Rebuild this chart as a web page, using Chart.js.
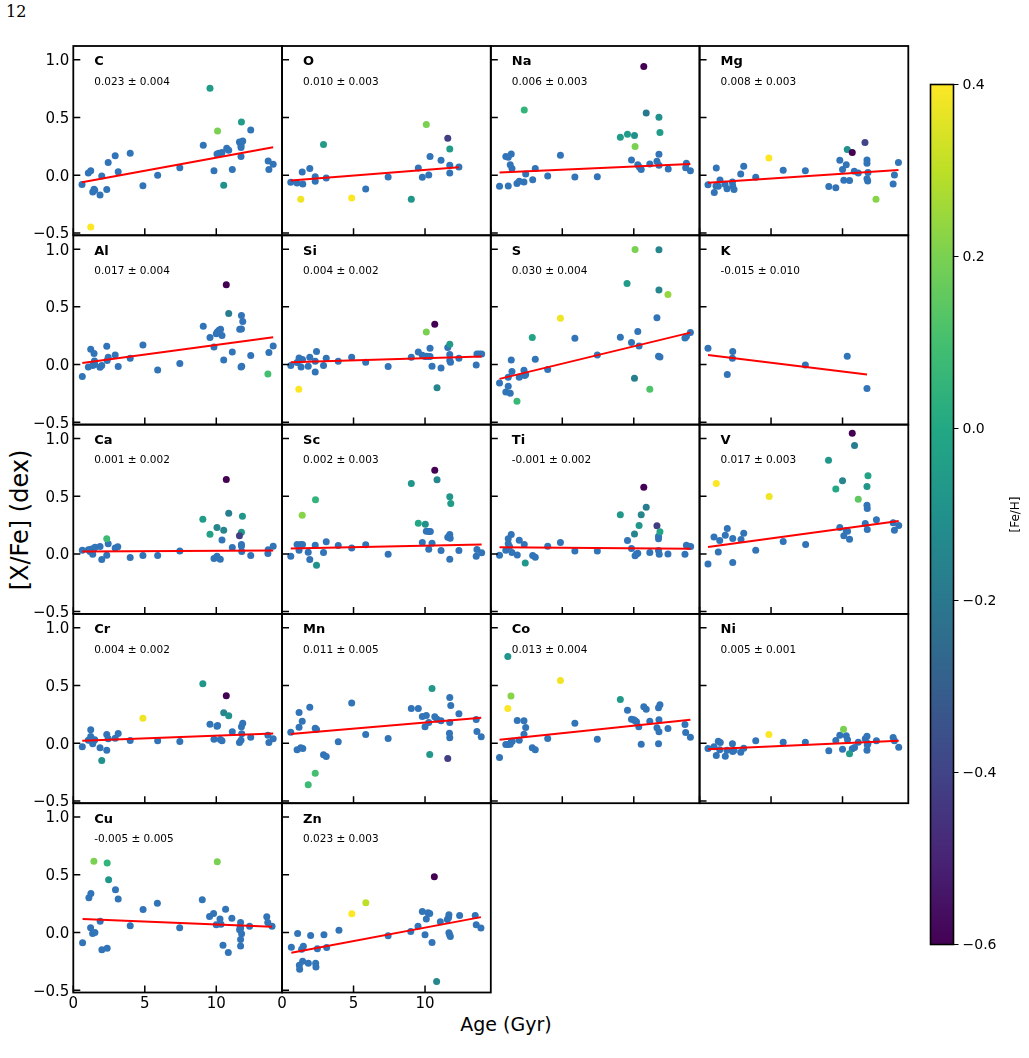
<!DOCTYPE html>
<html>
<head>
<meta charset="utf-8">
<script src="https://cdn.jsdelivr.net/npm/chart.js@4.4.1/dist/chart.umd.min.js"></script>
<style>
  html, body { margin:0; padding:0; background:#fff; }
  #fig { position:relative; width:1029px; height:1058px; overflow:hidden; background:#fff; font-family:"DejaVu Sans", sans-serif; }
  canvas { position:absolute; }
  .txt { position:absolute; white-space:nowrap; color:#000; }
</style>
</head>
<body>
<div id="fig">
  <div class="txt" style="left:6px; top:2px; font-family:'DejaVu Serif', serif; font-size:16px;">12</div>
  <div class="txt" id="ylab" style="left:20px; top:520px; font-size:24px; transform:translate(-50%,-50%) rotate(-90deg);">[X/Fe] (dex)</div>
  <div class="txt" style="left:506px; top:1024px; font-size:19px; transform:translate(-50%,-50%);">Age (Gyr)</div>
</div>
<script>
// ---------------- DATA ----------------
const ELEMENTS = ['C','O','Na','Mg','Al','Si','S','K','Ca','Sc','Ti','V','Cr','Mn','Co','Ni','Cu','Zn'];
const SLOPE_TEXT = ['0.023 ± 0.004','0.010 ± 0.003','0.006 ± 0.003','0.008 ± 0.003',
  '0.017 ± 0.004','0.004 ± 0.002','0.030 ± 0.004','-0.015 ± 0.010',
  '0.001 ± 0.002','0.002 ± 0.003','-0.001 ± 0.002','0.017 ± 0.003',
  '0.004 ± 0.002','0.011 ± 0.005','0.013 ± 0.004','0.005 ± 0.001',
  '-0.005 ± 0.005','0.023 ± 0.003'];
const FIT_INTERCEPT = [-0.075,-0.052,0.020,-0.070,0.004,0.018,-0.142,0.092,0.020,0.045,0.059,0.049,0.017,0.072,0.021,-0.055,0.119,-0.191];
const FIT_SLOPE = [0.0228,0.0099,0.0056,0.0083,0.0167,0.0037,0.0300,-0.0152,0.0007,0.0026,-0.0011,0.0170,0.0048,0.0106,0.0130,0.0054,-0.0050,0.0233];

const X_TICKS = [0,5,10];
const X_TICK_LABELS = ['0','5','10'];
const Y_TICKS = [-0.5,0,0.5,1.0];
const Y_TICK_LABELS = ['\u22120.5','0.0','0.5','1.0'];
const CBAR_TICKS = [0.4,0.2,0.0,-0.2,-0.4,-0.6];
const CBAR_TICK_LABELS = ['0.4','0.2','0.0','\u22120.2','\u22120.4','\u22120.6'];

// [age, [X/Fe]] for the main (blue) sample
const C_blue = [[0.61,-0.08],[1.05,0.02],[1.22,0.04],[1.36,-0.145],[1.45,-0.12],[1.5,-0.13],[1.87,-0.17],[1.99,-0.006],[2.34,-0.124],[2.44,0.11],[2.93,0.17],[3.14,0.03],[3.98,0.19],[4.87,-0.09],[5.9,0.0],[7.45,0.066],[9.09,0.26],[9.84,0.04],[10.05,0.185],[10.19,0.19],[10.4,0.197],[10.73,0.234],[10.87,0.217],[11.12,0.05],[11.62,0.289],[11.73,0.277],[11.73,0.257],[11.73,0.24],[11.85,0.298],[11.73,0.162],[12.41,0.393],[13.63,0.124],[13.68,0.049],[13.98,0.095]];
const O_blue = [[0.61,-0.061],[1.05,-0.066],[1.41,0.029],[1.45,-0.075],[1.94,0.058],[2.32,-0.012],[2.32,-0.052],[3.09,-0.023],[5.85,-0.118],[7.42,-0.014],[9.53,0.064],[9.81,-0.017],[10.26,0.003],[10.35,0.162],[11.12,0.13],[11.73,0.087],[11.73,0.02],[12.37,0.072]];
const Na_blue = [[0.61,-0.095],[1.22,-0.092],[1.05,0.162],[1.22,0.156],[1.43,0.185],[1.36,0.092],[1.48,0.058],[1.83,-0.072],[1.99,-0.052],[2.32,-0.058],[2.44,0.012],[2.93,-0.038],[3.11,0.058],[3.98,-0.006],[4.87,0.173],[5.88,-0.014],[7.45,-0.012],[9.84,0.133],[10.28,0.092],[10.4,0.069],[10.52,0.049],[11.12,0.098],[11.62,0.121],[11.76,0.182],[11.76,0.087],[12.41,0.055],[13.63,0.066],[13.68,0.104],[13.96,0.04]];
const Mg_blue = [[0.59,-0.081],[1.03,-0.15],[1.17,0.064],[1.15,-0.092],[1.31,-0.095],[1.43,-0.04],[1.78,-0.078],[1.92,-0.116],[2.3,-0.058],[2.32,-0.092],[2.41,-0.124],[2.88,0.012],[3.09,0.078],[3.93,-0.017],[5.85,0.043],[7.4,0.04],[9.04,-0.098],[9.53,-0.107],[9.81,0.13],[10.0,0.049],[10.09,-0.043],[10.26,0.092],[10.49,-0.046],[10.82,0.035],[11.1,0.02],[11.71,0.133],[11.71,0.104],[11.78,0.023],[11.71,-0.029],[11.76,-0.049],[13.54,-0.075],[13.63,0.003],[13.91,0.11]];
const Al_blue = [[0.63,-0.104],[1.05,-0.02],[1.22,0.133],[1.45,0.095],[1.36,-0.009],[1.48,0.032],[1.5,0.0],[1.87,-0.023],[1.99,-0.009],[2.34,0.159],[2.37,0.035],[2.44,0.064],[2.93,0.084],[3.14,-0.017],[3.98,0.055],[4.87,0.17],[5.9,-0.046],[7.45,0.009],[9.09,0.332],[9.56,0.234],[9.84,0.153],[10.0,0.266],[10.07,0.283],[10.19,0.298],[10.3,0.306],[10.4,0.251],[10.52,0.04],[11.12,0.11],[11.76,0.425],[11.85,0.373],[11.64,0.306],[11.76,0.309],[11.73,-0.02],[11.78,-0.014],[12.41,0.078],[13.68,0.104],[13.98,0.162]];
const Si_blue = [[0.61,-0.009],[1.05,0.017],[1.19,0.058],[1.31,0.04],[1.43,0.043],[1.33,-0.02],[1.83,-0.014],[1.94,0.064],[2.32,0.029],[2.32,-0.064],[2.41,0.113],[2.9,-0.009],[3.09,0.055],[3.93,0.029],[4.87,0.064],[5.85,0.02],[7.42,-0.017],[9.04,0.064],[9.53,0.11],[9.81,0.081],[10.0,0.069],[10.09,0.072],[10.23,0.069],[10.35,0.069],[10.35,0.142],[10.49,-0.014],[11.12,-0.029],[11.59,0.147],[11.73,0.087],[11.73,0.035],[11.78,0.02],[12.37,0.055],[13.58,-0.003],[13.63,0.092],[13.79,0.092],[13.96,0.092]];
const S_blue = [[0.61,-0.159],[1.05,-0.237],[1.22,-0.188],[1.22,-0.11],[1.36,-0.249],[1.43,0.04],[1.48,-0.061],[1.99,-0.11],[2.32,-0.049],[2.37,-0.095],[2.44,-0.087],[3.11,0.046],[3.98,-0.043],[5.88,0.228],[7.45,0.084],[9.06,0.237],[9.84,0.191],[10.28,0.286],[10.37,0.162],[11.62,0.405],[11.73,0.072],[11.83,0.066],[13.58,0.231],[13.68,0.243],[13.96,0.277]];
const K_blue = [[0.59,0.142],[1.94,-0.087],[2.32,0.113],[2.3,0.055],[7.4,-0.003],[10.33,0.072],[11.71,-0.208]];
const Ca_blue = [[0.63,0.032],[1.05,0.035],[1.22,0.04],[1.17,0.02],[1.36,-0.003],[1.43,0.049],[1.52,0.058],[1.87,0.064],[1.99,-0.049],[2.34,-0.012],[2.44,0.087],[2.93,0.052],[3.11,0.061],[3.98,-0.032],[4.87,-0.014],[5.9,-0.014],[7.45,0.026],[9.84,-0.04],[10.05,-0.02],[10.28,-0.046],[10.4,0.121],[11.12,0.055],[11.76,0.081],[11.76,0.069],[11.78,0.02],[12.41,-0.014],[13.63,0.035],[13.61,0.003],[13.98,0.066]];
const Sc_blue = [[0.61,-0.02],[1.05,0.081],[1.19,0.032],[1.31,0.081],[1.43,0.081],[1.83,0.014],[1.94,-0.049],[2.32,0.075],[2.9,0.012],[3.09,0.104],[3.93,0.072],[4.87,0.052],[5.85,0.078],[7.42,-0.003],[9.81,0.098],[10.09,0.197],[10.26,0.194],[10.37,0.194],[10.26,0.04],[10.49,0.092],[11.12,0.029],[11.59,0.145],[11.73,0.168],[11.76,0.136],[11.73,-0.046],[12.37,0.029],[13.58,-0.02],[13.63,0.038],[13.96,0.009]];
const Ti_blue = [[0.61,-0.012],[1.05,0.032],[1.22,0.13],[1.22,0.087],[1.31,0.064],[1.43,0.168],[1.48,0.012],[1.85,-0.009],[1.99,0.118],[2.34,0.081],[2.93,-0.014],[3.11,-0.029],[3.98,0.066],[4.87,0.098],[5.88,0.026],[7.45,0.026],[9.56,0.116],[9.84,0.046],[10.09,-0.017],[10.28,0.006],[10.19,0.0],[11.12,0.012],[11.73,0.153],[11.73,0.13],[11.73,0.029],[11.78,-0.003],[12.39,0.0],[13.58,-0.003],[13.68,0.075],[13.84,0.064],[13.98,0.064]];
const V_blue = [[0.59,-0.087],[1.01,0.147],[1.31,0.017],[1.41,0.116],[1.8,0.162],[1.94,0.22],[2.32,-0.075],[2.32,0.133],[2.9,0.124],[3.09,0.179],[3.93,0.032],[5.85,0.107],[7.42,0.081],[9.81,0.228],[10.09,0.156],[10.26,0.202],[10.35,0.197],[10.49,0.127],[11.59,0.263],[11.71,0.422],[11.73,0.393],[11.73,0.211],[12.37,0.295],[13.54,0.269],[13.63,0.205],[13.93,0.246]];
const Cr_blue = [[0.63,-0.032],[1.05,0.026],[1.22,0.058],[1.22,0.116],[1.31,0.012],[1.43,0.02],[1.5,0.029],[1.36,-0.006],[1.87,-0.04],[2.34,-0.061],[2.34,0.075],[2.44,0.038],[2.93,0.043],[3.14,0.084],[3.98,0.023],[5.9,0.02],[7.45,0.014],[9.56,0.165],[9.84,0.035],[10.05,0.147],[10.09,0.153],[10.28,0.032],[10.4,0.02],[11.12,0.098],[11.62,0.006],[11.73,0.026],[11.78,0.081],[11.76,0.142],[11.85,0.173],[12.41,0.052],[13.61,0.069],[13.68,0.006],[13.98,0.038]];
const Mn_blue = [[0.61,0.095],[1.05,-0.058],[1.31,-0.04],[1.45,-0.046],[1.19,0.139],[1.19,0.266],[1.41,0.191],[1.94,0.312],[2.32,0.13],[2.41,0.118],[2.9,-0.101],[3.09,-0.116],[3.93,0.012],[4.87,0.347],[5.85,0.075],[7.42,0.04],[9.04,0.301],[9.53,0.301],[9.81,0.231],[10.09,0.24],[10.0,0.142],[10.26,0.179],[10.68,0.228],[10.84,0.208],[11.12,0.194],[11.73,0.396],[11.8,0.327],[11.73,0.179],[11.71,0.087],[11.73,0.046],[12.37,0.254],[13.58,0.205],[13.63,0.101],[13.93,0.055]];
const Co_blue = [[0.61,-0.124],[1.05,-0.012],[1.22,-0.012],[1.36,-0.009],[1.43,0.012],[1.5,0.017],[1.85,0.197],[1.99,0.026],[2.32,0.194],[2.32,0.078],[2.44,0.136],[2.9,-0.04],[3.11,-0.058],[3.98,0.04],[5.88,0.173],[7.45,0.035],[9.56,0.286],[9.84,0.208],[10.0,0.202],[10.09,0.194],[10.19,0.185],[10.35,0.142],[10.52,-0.009],[10.7,0.315],[10.87,0.295],[11.12,0.191],[11.62,0.133],[11.76,0.098],[11.76,0.202],[11.73,0.306],[11.83,0.332],[11.73,-0.006],[12.39,0.127],[13.58,0.162],[13.63,0.092],[13.96,0.052]];
const Ni_blue = [[0.59,-0.046],[1.01,-0.032],[1.17,-0.107],[1.31,0.017],[1.45,0.006],[1.41,-0.058],[1.8,-0.113],[1.92,-0.061],[2.3,-0.006],[2.32,-0.072],[2.41,-0.061],[2.88,-0.078],[3.09,-0.043],[3.93,0.02],[5.85,0.009],[7.4,0.009],[9.04,-0.066],[9.53,0.023],[9.81,0.069],[10.0,-0.052],[10.26,0.064],[10.35,0.029],[10.68,-0.049],[10.84,-0.038],[11.1,0.009],[11.59,0.038],[11.71,0.061],[11.78,-0.003],[11.71,-0.061],[11.73,-0.015],[12.37,0.02],[13.54,0.049],[13.63,0.02],[13.93,-0.035]];
const Cu_blue = [[0.65,-0.09],[1.09,0.301],[1.23,0.338],[1.21,0.04],[1.35,-0.009],[1.51,0.0],[1.88,0.098],[2.0,-0.15],[2.37,-0.136],[2.95,0.37],[3.14,0.289],[3.98,0.058],[4.88,0.199],[5.88,0.254],[7.44,0.04],[9.02,0.283],[9.53,0.139],[9.81,0.165],[10.0,0.066],[10.26,0.116],[10.33,0.072],[10.47,-0.11],[10.65,0.202],[10.84,-0.173],[11.09,0.124],[11.7,0.087],[11.7,0.035],[11.77,-0.012],[11.7,-0.061],[11.7,-0.118],[11.67,0.049],[11.63,0.023],[12.33,0.055],[13.53,0.136],[13.6,0.087],[13.9,0.055]];
const Zn_blue = [[0.65,-0.127],[1.09,-0.009],[1.21,-0.283],[1.23,-0.318],[1.37,-0.145],[1.49,-0.119],[1.44,-0.249],[1.84,-0.266],[2.0,-0.026],[2.35,-0.266],[2.37,-0.298],[2.47,-0.142],[2.93,-0.02],[3.12,-0.13],[3.98,0.02],[7.42,-0.029],[9.0,0.009],[9.51,0.055],[9.81,0.182],[10.0,-0.02],[10.09,0.116],[10.21,0.171],[10.33,0.165],[10.49,-0.087],[11.07,0.092],[11.56,0.113],[11.65,0.13],[11.67,0.153],[11.67,-0.003],[11.72,-0.02],[11.77,-0.035],[12.42,0.147],[13.51,0.147],[13.58,0.066],[13.91,0.038]];

// [age, [X/Fe], [Fe/H]] for the points coloured by metallicity
const C_feh = [[9.56,0.754,-0.05],[10.09,0.384,0.2],[11.76,0.462,-0.05],[10.52,-0.087,-0.1],[1.22,-0.448,0.4]];
const O_feh = [[2.9,0.266,-0.05],[1.31,-0.208,0.38],[4.87,-0.197,0.4],[9.04,-0.208,-0.08],[10.09,0.439,0.2],[11.59,0.321,-0.42],[11.73,0.228,-0.05]];
const Na_feh = [[2.34,0.566,0.05],[9.06,0.329,-0.05],[9.56,0.355,-0.05],[10.05,0.344,-0.1],[10.09,0.249,0.2],[10.7,0.942,-0.6],[10.87,0.54,-0.2],[11.76,0.503,-0.1],[11.83,0.37,-0.05]];
const Mg_feh = [[4.85,0.15,0.4],[10.33,0.223,-0.1],[10.68,0.197,-0.6],[11.57,0.283,-0.4],[12.34,-0.208,0.22]];
const Al_feh = [[10.7,0.691,-0.6],[10.87,0.442,-0.18],[13.61,-0.081,0.1]];
const Si_feh = [[1.17,-0.214,0.4],[10.09,0.283,0.2],[10.68,0.35,-0.6],[11.73,0.176,-0.05],[10.84,-0.2,-0.15]];
const S_feh = [[1.83,-0.318,0.07],[2.9,0.234,-0.02],[4.87,0.402,0.38],[9.53,0.702,-0.05],[10.09,0.997,0.2],[10.05,-0.118,-0.17],[11.12,-0.214,0.12],[11.76,0.994,-0.15],[11.76,0.647,-0.15],[12.39,0.607,0.24]];
const K_feh = [];
const Ca_feh = [[2.34,0.13,0.08],[9.06,0.3,-0.05],[9.56,0.17,-0.03],[10.05,0.228,-0.15],[10.52,0.205,-0.15],[10.7,0.645,-0.6],[10.87,0.353,-0.18],[11.83,0.327,-0.08],[11.76,0.188,-0.07],[11.62,0.156,-0.42]];
const Sc_feh = [[1.41,0.335,0.22],[2.34,0.468,0.05],[2.41,-0.098,-0.1],[9.04,0.61,-0.08],[9.53,0.266,0.0],[10.02,0.257,-0.1],[10.68,0.725,-0.6],[10.84,0.642,-0.15],[11.73,0.494,-0.08],[11.8,0.436,-0.05]];
const Ti_feh = [[2.41,-0.078,-0.08],[9.06,0.338,-0.07],[10.05,0.173,-0.15],[10.37,0.246,-0.08],[10.52,0.338,-0.15],[10.7,0.578,-0.6],[10.87,0.405,-0.18],[11.62,0.243,-0.42],[11.83,0.191,-0.02]];
const V_feh = [[1.17,0.61,0.4],[4.87,0.497,0.38],[9.02,0.812,-0.08],[9.53,0.561,0.0],[10.0,0.633,-0.15],[10.68,1.046,-0.6],[10.84,0.939,-0.18],[11.1,0.474,0.15],[11.78,0.676,-0.02],[11.71,0.584,-0.08]];
const Cr_feh = [[1.99,-0.15,-0.1],[4.87,0.217,0.38],[9.06,0.514,-0.07],[10.52,0.263,-0.15],[10.7,0.41,-0.6],[10.87,0.237,-0.1]];
const Mn_feh = [[2.32,-0.26,0.1],[1.83,-0.361,0.08],[10.49,0.474,-0.07],[10.33,-0.098,-0.07],[11.59,-0.133,-0.42]];
const Co_feh = [[1.19,0.751,-0.08],[1.41,0.408,0.22],[1.19,0.3,0.4],[4.87,0.543,0.38],[9.06,0.379,-0.07]];
const Ni_feh = [[4.85,0.075,0.4],[10.07,0.121,0.2],[10.49,-0.092,-0.05]];
const Cu_feh = [[1.44,0.618,0.2],[2.37,0.601,0.05],[2.47,0.457,-0.08],[10.07,0.613,0.2]];
const Zn_feh = [[4.88,0.162,0.4],[5.86,0.257,0.3],[10.65,0.483,-0.6],[10.81,-0.425,-0.15]];

const BLUE_SETS = [C_blue,O_blue,Na_blue,Mg_blue,Al_blue,Si_blue,S_blue,K_blue,Ca_blue,Sc_blue,Ti_blue,V_blue,Cr_blue,Mn_blue,Co_blue,Ni_blue,Cu_blue,Zn_blue];
const FEH_SETS = [C_feh,O_feh,Na_feh,Mg_feh,Al_feh,Si_feh,S_feh,K_feh,Ca_feh,Sc_feh,Ti_feh,V_feh,Cr_feh,Mn_feh,Co_feh,Ni_feh,Cu_feh,Zn_feh];

// ---------------- STYLE / LAYOUT ----------------
const X_MIN = 0, X_MAX = 14.6, Y_MIN = -0.52, Y_MAX = 1.12;
const FEH_MIN = -0.6, FEH_MAX = 0.4;
const BLUE = '#3274b8';
const VIRIDIS = ['#440154','#482475','#414487','#355f8d','#2a788e','#21918c','#22a884','#44bf70','#7ad151','#bddf26','#fde725'];
function hex2rgb(h){return [parseInt(h.slice(1,3),16),parseInt(h.slice(3,5),16),parseInt(h.slice(5,7),16)];}
function viridis(v){
  let t=(v-FEH_MIN)/(FEH_MAX-FEH_MIN); t=Math.max(0,Math.min(1,t));
  const s=t*(VIRIDIS.length-1); const i=Math.min(VIRIDIS.length-2,Math.floor(s)); const f=s-i;
  const a=hex2rgb(VIRIDIS[i]), b=hex2rgb(VIRIDIS[i+1]);
  return 'rgb('+a.map((c,k)=>Math.round(c+(b[k]-c)*f)).join(',')+')';
}

const PANEL_L0 = 73.3, PANEL_W = 208.75, PANEL_T0 = 46, PANEL_H = 189.3, NCOL = 4, PAD = 46;
const fig = document.getElementById('fig');

const panelDecor = {
  id:'panelDecor',
  afterDatasetsDraw(chart, args, o){
    const ctx=chart.ctx, a=chart.chartArea, xs=chart.scales.x, ys=chart.scales.y;
    ctx.save();
    ctx.strokeStyle='#000'; ctx.lineWidth=1.5;
    ctx.beginPath();
    Y_TICKS.forEach(v=>{const p=ys.getPixelForValue(v); ctx.moveTo(a.left,p); ctx.lineTo(a.left+7,p);});
    X_TICKS.forEach(v=>{const p=xs.getPixelForValue(v); ctx.moveTo(p,a.bottom); ctx.lineTo(p,a.bottom-7);});
    ctx.stroke();
    ctx.lineWidth=1.8;
    ctx.strokeRect(a.left,a.top,a.right-a.left,a.bottom-a.top);
    ctx.fillStyle='#000';
    ctx.textAlign='left'; ctx.textBaseline='middle';
    ctx.font='bold 13px "DejaVu Sans"';
    ctx.fillText(o.name, a.left+21, a.top+16);
    ctx.font='10.5px "DejaVu Sans"';
    ctx.fillText(o.slope, a.left+21, a.top+36);
    ctx.font='15px "DejaVu Sans"';
    if(o.yLabels){
      ctx.textAlign='right';
      Y_TICKS.forEach((v,i)=>ctx.fillText(Y_TICK_LABELS[i], a.left-4, ys.getPixelForValue(v)+1.5));
    }
    if(o.xLabels){
      ctx.textAlign='center'; ctx.textBaseline='top';
      X_TICKS.forEach((v,i)=>ctx.fillText(X_TICK_LABELS[i], xs.getPixelForValue(v), a.bottom+4));
    }
    ctx.restore();
  }
};

function makeCanvas(L,T,W,H){
  const cl=Math.floor(L)-PAD, ct=Math.floor(T)-PAD;
  const cw=Math.ceil(L+W)+PAD-cl, ch=Math.ceil(T+H)+PAD-ct;
  const cv=document.createElement('canvas');
  cv.width=cw; cv.height=ch; cv.style.left=cl+'px'; cv.style.top=ct+'px';
  cv.style.width=cw+'px'; cv.style.height=ch+'px';
  fig.appendChild(cv);
  return {cv, pad:{left:L-cl, top:T-ct, right:cw-(L-cl)-W, bottom:ch-(T-ct)-H}};
}

ELEMENTS.forEach((el,i)=>{
  const col=i%NCOL, row=Math.floor(i/NCOL);
  const L=PANEL_L0+col*PANEL_W, T=PANEL_T0+row*PANEL_H;
  const {cv,pad}=makeCanvas(L,T,PANEL_W,PANEL_H);
  const blue=BLUE_SETS[i].map(p=>({x:p[0],y:p[1]}));
  const feh=FEH_SETS[i];
  const ages=BLUE_SETS[i].map(p=>p[0]);
  const x0=Math.min(...ages), x1=Math.max(...ages);
  const fit=[{x:x0,y:FIT_INTERCEPT[i]+FIT_SLOPE[i]*x0},{x:x1,y:FIT_INTERCEPT[i]+FIT_SLOPE[i]*x1}];
  new Chart(cv,{
    type:'scatter',
    data:{datasets:[
      {type:'line',data:fit,borderColor:'#ff0000',borderWidth:2,pointRadius:0,fill:false,order:0},
      {data:feh.map(p=>({x:p[0],y:p[1]})),pointBackgroundColor:feh.map(p=>viridis(p[2])),pointBorderWidth:0,pointRadius:3.5,order:1},
      {data:blue,pointBackgroundColor:BLUE,pointBorderWidth:0,pointRadius:3.5,order:2}
    ]},
    options:{
      responsive:false, animation:false, events:[],
      layout:{padding:pad},
      plugins:{legend:{display:false},tooltip:{enabled:false},
        panelDecor:{name:el,slope:SLOPE_TEXT[i],yLabels:col===0,xLabels:row===4}},
      scales:{x:{type:'linear',min:X_MIN,max:X_MAX,display:false},y:{type:'linear',min:Y_MIN,max:Y_MAX,display:false}}
    },
    plugins:[panelDecor]
  });
});

// ---------------- COLORBAR ----------------
const cbarDecor = {
  id:'cbarDecor',
  afterDatasetsDraw(chart){
    const ctx=chart.ctx, a=chart.chartArea, ys=chart.scales.y;
    ctx.save();
    const g=ctx.createLinearGradient(0,ys.getPixelForValue(FEH_MIN),0,ys.getPixelForValue(FEH_MAX));
    VIRIDIS.forEach((c,k)=>g.addColorStop(k/(VIRIDIS.length-1),c));
    ctx.fillStyle=g; ctx.fillRect(a.left,a.top,a.right-a.left,a.bottom-a.top);
    ctx.strokeStyle='#000'; ctx.lineWidth=1.6;
    ctx.strokeRect(a.left,a.top,a.right-a.left,a.bottom-a.top);
    ctx.lineWidth=1.2; ctx.beginPath();
    CBAR_TICKS.forEach(v=>{const p=ys.getPixelForValue(v); ctx.moveTo(a.right,p); ctx.lineTo(a.right+5,p);});
    ctx.stroke();
    ctx.fillStyle='#000'; ctx.font='14px "DejaVu Sans"'; ctx.textAlign='left'; ctx.textBaseline='middle';
    CBAR_TICKS.forEach((v,i)=>ctx.fillText(CBAR_TICK_LABELS[i], a.right+9, ys.getPixelForValue(v)+1));
    ctx.translate(a.right+62,(a.top+a.bottom)/2); ctx.rotate(-Math.PI/2);
    ctx.textAlign='center'; ctx.font='12px "DejaVu Sans"';
    ctx.fillText('[Fe/H]',0,0);
    ctx.restore();
  }
};
(function(){
  const L=930.5, T=84.5, W=23, H=860;
  const cl=Math.floor(L)-10, ct=Math.floor(T)-10;
  const cw=1029-cl, ch=Math.ceil(T+H)+10-ct;
  const cv=document.createElement('canvas');
  cv.width=cw; cv.height=ch; cv.style.left=cl+'px'; cv.style.top=ct+'px';
  cv.style.width=cw+'px'; cv.style.height=ch+'px';
  fig.appendChild(cv);
  new Chart(cv,{
    type:'scatter', data:{datasets:[{data:[]}]},
    options:{responsive:false,animation:false,events:[],
      layout:{padding:{left:L-cl,top:T-ct,right:cw-(L-cl)-W,bottom:ch-(T-ct)-H}},
      plugins:{legend:{display:false},tooltip:{enabled:false}},
      scales:{x:{type:'linear',min:0,max:1,display:false},y:{type:'linear',min:FEH_MIN,max:FEH_MAX,display:false}}},
    plugins:[cbarDecor]
  });
})();
</script>
</body>
</html>
